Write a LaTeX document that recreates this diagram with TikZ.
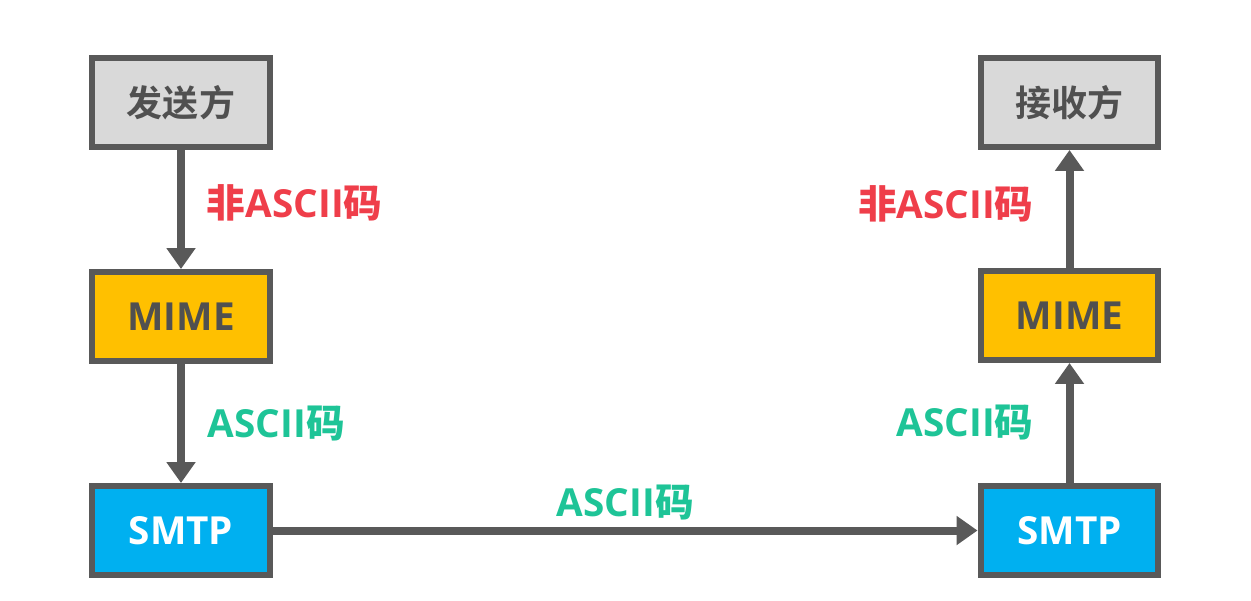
\documentclass[tikz,border=0pt]{standalone}
\usepackage{fontspec}
\setmainfont{Open Sans}
\newfontfamily\cjk{Noto Sans CJK SC Bold}
\usetikzlibrary{arrows.meta,positioning}
\definecolor{edgegray}{HTML}{595959}
\definecolor{boxgray}{HTML}{D9D9D9}
\definecolor{mimeorange}{HTML}{FFC000}
\definecolor{smtpblue}{HTML}{00B0F0}
\definecolor{txtgray}{HTML}{505050}
\definecolor{codered}{HTML}{EF3E4A}
\definecolor{codegreen}{HTML}{1EC497}
\tikzset{
  box/.style={draw=edgegray, line width=0.12cm, minimum width=3.56cm, minimum height=1.78cm,
    inner sep=0pt, font=\bfseries\fontsize{22}{25}\selectfont},
  userbox/.style={box, fill=boxgray, text=txtgray, font=\cjk\fontsize{20.5}{24}\selectfont},
  mimebox/.style={box, fill=mimeorange, text=txtgray},
  smtpbox/.style={box, fill=smtpblue, text=white},
  flow/.style={draw=edgegray, line width=0.16cm, -{Triangle[width=0.56cm,length=0.42cm]}},
  redlbl/.style={inner sep=0pt, text=codered, font=\bfseries\fontsize{22}{25}\selectfont},
  greenlbl/.style={inner sep=0pt, text=codegreen, font=\bfseries\fontsize{22}{25}\selectfont}
}
\begin{document}
\begin{tikzpicture}[x=0.02cm, y=-0.02cm]
			%%%%% START %%%%%
			\useasboundingbox[fill=white] (0, 0) rectangle (1251, 600);
			
			\node[userbox] (sender) at (181, 102.5) {发送方};
			\node[mimebox] (mimeL) at (181, 316.5) {MIME};
			\node[smtpbox] (smtpL) at (181, 530.5) {SMTP};
			
			\node[userbox] (receiver) at (1069.5, 102.5) {接收方};
			\node[mimebox] (mimeR) at (1069.5, 315.5) {MIME};
			\node[smtpbox] (smtpR) at (1069.5, 530.5) {SMTP};
			
			\draw[flow] (sender) -- (mimeL)
				node[midway, redlbl, right=0.44cm, yshift=0.13cm] {{\cjk 非}ASCII{\cjk 码}};
			\draw[flow] (mimeL) -- (smtpL)
				node[midway, greenlbl, right=0.46cm] {ASCII{\cjk 码}};
			\draw[flow] (smtpL) -- (smtpR)
				node[midway, greenlbl, yshift=0.55cm] {ASCII{\cjk 码}};
			\draw[flow] (smtpR) -- (mimeR)
				node[midway, greenlbl, left=0.64cm] {ASCII{\cjk 码}};
			\draw[flow] (mimeR) -- (receiver)
				node[midway, redlbl, left=0.64cm, yshift=0.1cm] {{\cjk 非}ASCII{\cjk 码}};
			
			%%%%% END %%%%%
\end{tikzpicture}
\end{document}
